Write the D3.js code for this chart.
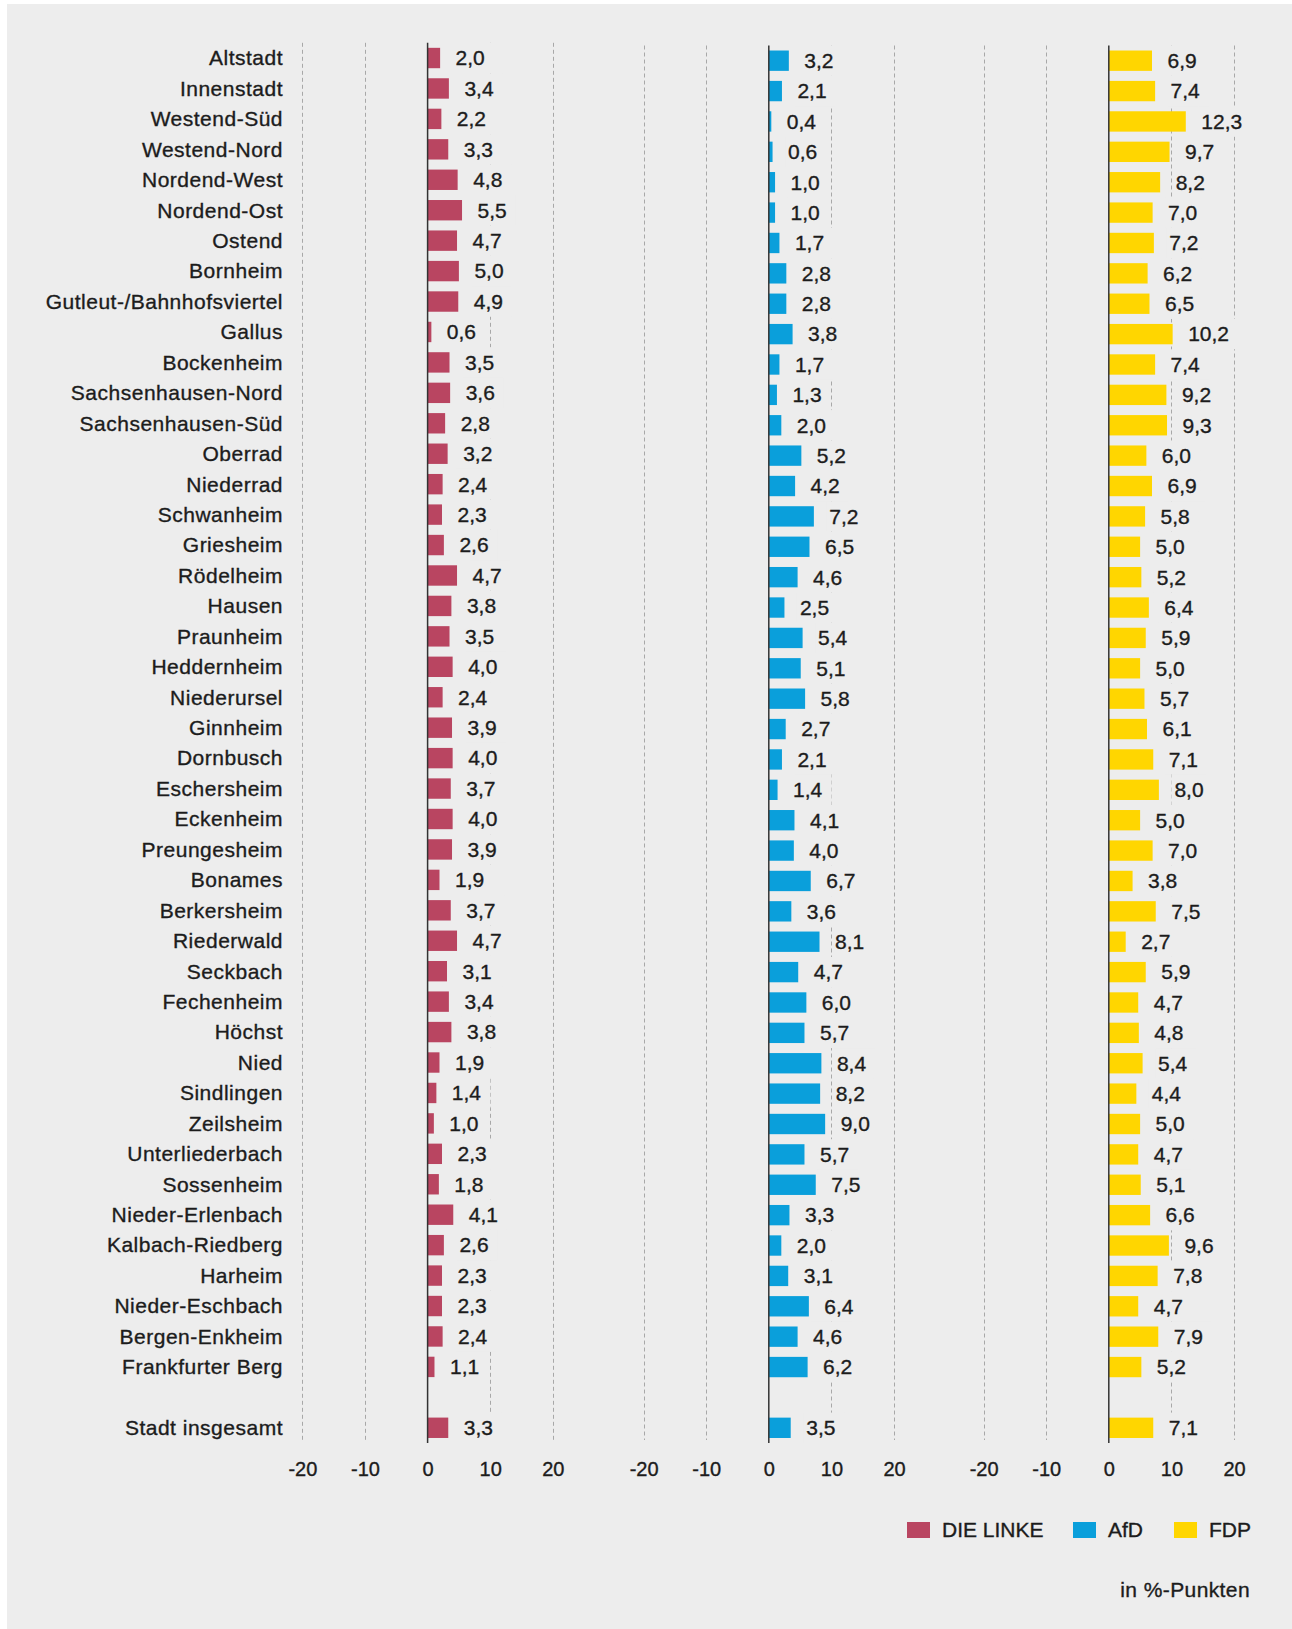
<!DOCTYPE html>
<html>
<head>
<meta charset="utf-8">
<script src="https://cdn.jsdelivr.net/npm/d3@7"></script>
<style>
  body { margin: 0; background: #fff; }
  text { font-family: "Liberation Sans", Arial, sans-serif; fill: #1c1c1c; stroke: #1c1c1c; stroke-width: 0.35px; }
</style>
</head>
<body>
<div id="chart"></div>
<script>
// Declare constants
const FRAME_WIDTH = 1292;
const FRAME_HEIGHT = 1629;
const BG = "#ededed";

// data
const districts = ["Altstadt", "Innenstadt", "Westend-Süd", "Westend-Nord", "Nordend-West",
  "Nordend-Ost", "Ostend", "Bornheim", "Gutleut-/Bahnhofsviertel", "Gallus", "Bockenheim",
  "Sachsenhausen-Nord", "Sachsenhausen-Süd", "Oberrad", "Niederrad", "Schwanheim", "Griesheim",
  "Rödelheim", "Hausen", "Praunheim", "Heddernheim", "Niederursel", "Ginnheim", "Dornbusch",
  "Eschersheim", "Eckenheim", "Preungesheim", "Bonames", "Berkersheim", "Riederwald", "Seckbach",
  "Fechenheim", "Höchst", "Nied", "Sindlingen", "Zeilsheim", "Unterliederbach", "Sossenheim",
  "Nieder-Erlenbach", "Kalbach-Riedberg", "Harheim", "Nieder-Eschbach", "Bergen-Enkheim",
  "Frankfurter Berg"];
const total = "Stadt insgesamt";

const linke = [2.0, 3.4, 2.2, 3.3, 4.8, 5.5, 4.7, 5.0, 4.9, 0.6, 3.5, 3.6, 2.8, 3.2, 2.4, 2.3,
  2.6, 4.7, 3.8, 3.5, 4.0, 2.4, 3.9, 4.0, 3.7, 4.0, 3.9, 1.9, 3.7, 4.7, 3.1, 3.4, 3.8, 1.9, 1.4,
  1.0, 2.3, 1.8, 4.1, 2.6, 2.3, 2.3, 2.4, 1.1];
const afd = [3.2, 2.1, 0.4, 0.6, 1.0, 1.0, 1.7, 2.8, 2.8, 3.8, 1.7, 1.3, 2.0, 5.2, 4.2, 7.2,
  6.5, 4.6, 2.5, 5.4, 5.1, 5.8, 2.7, 2.1, 1.4, 4.1, 4.0, 6.7, 3.6, 8.1, 4.7, 6.0, 5.7, 8.4, 8.2,
  9.0, 5.7, 7.5, 3.3, 2.0, 3.1, 6.4, 4.6, 6.2];
const fdp = [6.9, 7.4, 12.3, 9.7, 8.2, 7.0, 7.2, 6.2, 6.5, 10.2, 7.4, 9.2, 9.3, 6.0, 6.9, 5.8,
  5.0, 5.2, 6.4, 5.9, 5.0, 5.7, 6.1, 7.1, 8.0, 5.0, 7.0, 3.8, 7.5, 2.7, 5.9, 4.7, 4.8, 5.4, 4.4,
  5.0, 4.7, 5.1, 6.6, 9.6, 7.8, 4.7, 7.9, 5.2];
const totals = {linke: 3.3, afd: 3.5, fdp: 7.1};

const xTicks = [-20, -10, 0, 10, 20];
const parties = [
  {key: "linke", name: "DIE LINKE", color: "#b94561", values: linke, zero: 427.6, top: 42.8},
  {key: "afd", name: "AfD", color: "#0a9fdb", values: afd, zero: 768.8, top: 45.5},
  {key: "fdp", name: "FDP", color: "#ffd600", values: fdp, zero: 1108.8, top: 45.5}
];

// rows: districts, an empty gap, then the city total
const ROWS = districts.concat([" ", total]);
const BOTTOM = 1443;
const HALF = 125.2;

const svg = d3.select("#chart")
  .append("svg")
    .attr("width", FRAME_WIDTH)
    .attr("height", FRAME_HEIGHT);

// background panel
svg.append("rect")
  .attr("x", 7).attr("y", 4)
  .attr("width", FRAME_WIDTH - 7).attr("height", FRAME_HEIGHT - 4)
  .attr("fill", BG);

const fmt = (v) => v.toFixed(1).replace(".", ",");

function rowScale(top) {
  return d3.scaleBand().domain(ROWS).range([top, BOTTOM])
    .paddingInner(0.33).paddingOuter(0.165);
}

// district labels, aligned with first column rows
const Y_LABEL = rowScale(parties[0].top);

svg.append("g").selectAll("text")
  .data(ROWS.filter((r) => r !== " "))
  .enter()
  .append("text")
    .attr("x", 283)
    .attr("y", (d) => Y_LABEL(d) + Y_LABEL.bandwidth() / 2)
    .attr("dy", "0.35em")
    .attr("text-anchor", "end")
    .attr("font-size", "21px")
    .attr("letter-spacing", "0.5px")
    .text((d) => d);

parties.forEach((p) => {
  const X = d3.scaleLinear().domain([-20, 20]).range([p.zero - HALF, p.zero + HALF]);
  const Y = rowScale(p.top);
  const step = Y.step();

  const rows = p.values.map((v, i) => ({name: districts[i], value: v}));
  rows.push({name: total, value: totals[p.key]});

  const g = svg.append("g");

  // dashed grid
  g.selectAll(".grid")
    .data(xTicks.filter((t) => t !== 0))
    .enter()
    .append("line")
      .attr("x1", (d) => Math.round(X(d)) + 0.5)
      .attr("x2", (d) => Math.round(X(d)) + 0.5)
      .attr("y1", p.top)
      .attr("y2", BOTTOM - 3)
      .attr("stroke", "#a8a8a8")
      .attr("stroke-width", 1)
      .attr("stroke-dasharray", "4,3");

  // label backgrounds hide the grid behind the values
  const labels = g.selectAll(".val")
    .data(rows)
    .enter()
    .append("text")
      .attr("x", (d) => X(d.value) + 15.5)
      .attr("y", (d) => Y(d.name) + Y.bandwidth() / 2)
      .attr("dy", "0.35em")
      .attr("font-size", "21px")
      .text((d) => fmt(d.value));

  labels.each(function(d) {
    const b = this.getBBox();
    g.insert("rect", "text")
      .attr("x", b.x - 3)
      .attr("y", Y(d.name) + Y.bandwidth() / 2 - step / 2)
      .attr("width", b.width + 12)
      .attr("height", step)
      .attr("fill", BG);
  });

  // bars
  g.selectAll(".bar")
    .data(rows)
    .enter()
    .append("rect")
      .attr("x", X(0))
      .attr("y", (d) => Y(d.name))
      .attr("width", (d) => X(d.value) - X(0))
      .attr("height", Y.bandwidth())
      .attr("fill", p.color);

  // zero line
  g.append("line")
    .attr("x1", X(0)).attr("x2", X(0))
    .attr("y1", p.top).attr("y2", BOTTOM)
    .attr("stroke", "#333")
    .attr("stroke-width", 1.5);

  // tick labels
  const axis = svg.append("g")
    .attr("transform", "translate(0," + 1462 + ")")
    .call(d3.axisBottom(X).tickValues(xTicks).tickSize(0).tickPadding(0)
      .tickFormat((d) => String(d)));
  axis.select(".domain").remove();
  axis.selectAll("text")
    .attr("font-size", "20px")
    .attr("fill", "#1c1c1c")
    .attr("font-family", '"Liberation Sans", Arial, sans-serif');
});

// legend
const LEGEND_X = [907, 1073, 1174];
const legend = svg.append("g");
parties.forEach((p, i) => {
  legend.append("rect")
    .attr("x", LEGEND_X[i]).attr("y", 1522)
    .attr("width", 23).attr("height", 16)
    .attr("fill", p.color);
  legend.append("text")
    .attr("x", LEGEND_X[i] + 35).attr("y", 1530)
    .attr("dy", "0.35em")
    .attr("font-size", "21px")
    .text(p.name);
});

svg.append("text")
  .attr("x", 1250).attr("y", 1590)
  .attr("dy", "0.35em")
  .attr("text-anchor", "end")
  .attr("font-size", "21px")
  .attr("letter-spacing", "0.4px")
  .text("in %-Punkten");
</script>
</body>
</html>
